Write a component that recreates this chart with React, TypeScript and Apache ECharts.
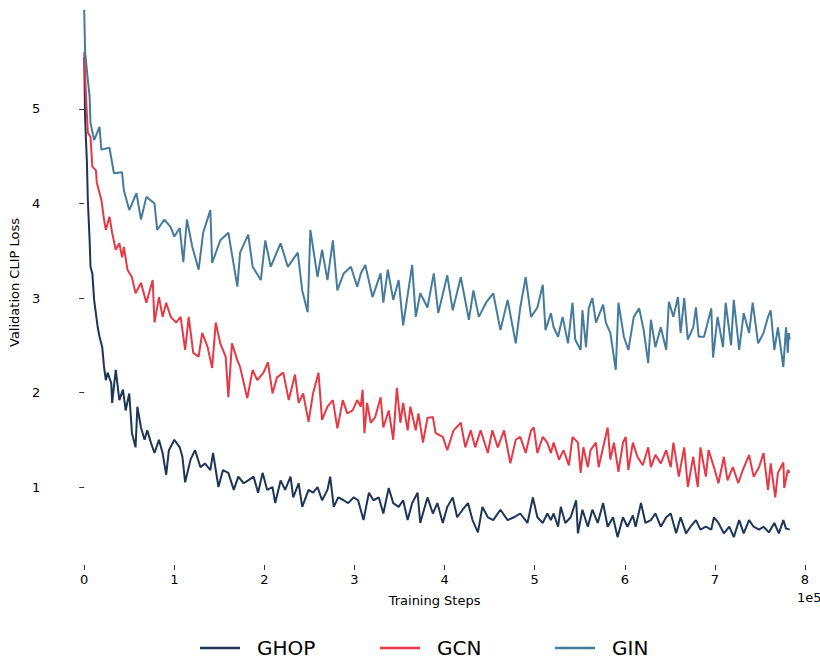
import React, { useEffect, useRef } from "react";
import * as echarts from "echarts";

// Training steps are in thousands; loss values.
const ghopPoints: [number, number][] = [[0,5.55],[1,4.90],[3,4.43],[4,4.04],[6,3.61],[7,3.33],[9,3.26],[11,2.98],[15,2.69],[17,2.59],[20,2.48],[22,2.27],[24,2.13],[26,2.21],[30,2.10],[31,1.89],[35,2.24],[39,1.92],[43,2.03],[46,1.81],[50,1.99],[53,1.57],[57,1.42],[59,1.85],[63,1.63],[67,1.50],[70,1.60],[74,1.47],[78,1.36],[83,1.50],[87,1.36],[91,1.13],[94,1.39],[100,1.50],[106,1.42],[109,1.32],[112,1.05],[118,1.29],[123,1.39],[129,1.21],[134,1.25],[140,1.18],[143,1.36],[149,1.00],[154,1.18],[160,1.15],[166,0.97],[171,1.11],[177,1.04],[182,1.07],[188,1.11],[193,0.94],[198,1.15],[203,0.97],[209,1.00],[212,0.83],[218,1.07],[223,0.97],[229,1.11],[232,0.89],[238,1.04],[242,0.79],[249,0.97],[254,0.94],[259,1.00],[264,0.86],[270,0.97],[273,1.11],[277,0.79],[282,0.89],[288,0.86],[293,0.83],[299,0.89],[304,0.86],[310,0.65],[316,0.94],[321,0.86],[327,0.89],[332,0.72],[338,0.99],[343,0.83],[349,0.79],[354,0.86],[359,0.65],[364,0.83],[370,0.94],[373,0.62],[381,0.89],[387,0.72],[392,0.83],[398,0.62],[403,0.79],[409,0.89],[414,0.68],[420,0.76],[426,0.83],[431,0.65],[437,0.52],[442,0.79],[448,0.68],[454,0.65],[462,0.76],[470,0.65],[477,0.68],[484,0.72],[492,0.62],[498,0.89],[503,0.68],[509,0.62],[514,0.72],[518,0.65],[521,0.72],[526,0.58],[529,0.79],[534,0.62],[540,0.68],[546,0.86],[548,0.51],[553,0.76],[559,0.58],[564,0.76],[570,0.62],[576,0.83],[581,0.58],[587,0.68],[592,0.47],[598,0.68],[603,0.58],[609,0.70],[612,0.58],[618,0.83],[623,0.62],[629,0.65],[634,0.72],[640,0.58],[646,0.68],[651,0.72],[657,0.51],[662,0.68],[668,0.51],[673,0.58],[679,0.65],[684,0.55],[690,0.58],[696,0.55],[699,0.68],[704,0.62],[710,0.51],[716,0.58],[721,0.47],[727,0.65],[732,0.51],[738,0.65],[743,0.58],[749,0.55],[754,0.58],[760,0.52],[766,0.62],[771,0.51],[776,0.65],[779,0.56],[783,0.55]];

const gcnPoints: [number, number][] = [[0,5.60],[2,5.13],[4,4.75],[7,4.70],[9,4.39],[13,4.35],[14,4.22],[19,4.04],[22,3.83],[24,3.72],[28,3.86],[31,3.69],[35,3.51],[39,3.58],[42,3.43],[44,3.54],[48,3.30],[53,3.22],[57,3.05],[63,3.16],[69,2.95],[76,3.19],[78,2.74],[83,3.01],[87,2.80],[91,2.95],[96,2.80],[102,2.74],[107,2.80],[112,2.45],[116,2.80],[121,2.42],[127,2.38],[131,2.63],[137,2.48],[142,2.26],[146,2.74],[151,2.52],[157,2.38],[160,1.95],[164,2.52],[170,2.34],[173,2.27],[181,1.94],[187,2.24],[192,2.13],[199,2.21],[204,2.32],[209,1.99],[214,2.16],[221,2.21],[227,1.92],[234,2.19],[238,1.89],[243,1.99],[249,1.69],[254,1.99],[260,2.21],[264,1.71],[270,1.85],[276,1.92],[281,1.62],[287,1.92],[292,1.78],[298,1.81],[303,1.92],[307,1.85],[309,2.03],[311,1.57],[314,1.89],[318,1.68],[323,1.74],[329,1.95],[332,1.63],[338,1.81],[343,1.50],[347,2.05],[351,1.68],[354,1.89],[359,1.60],[362,1.85],[368,1.60],[371,1.78],[376,1.47],[381,1.73],[387,1.74],[390,1.57],[398,1.53],[403,1.39],[410,1.60],[418,1.68],[423,1.42],[429,1.60],[434,1.42],[440,1.60],[448,1.36],[453,1.60],[459,1.42],[466,1.60],[473,1.25],[479,1.50],[484,1.53],[490,1.36],[496,1.60],[499,1.63],[503,1.36],[509,1.53],[514,1.47],[518,1.36],[521,1.47],[527,1.29],[532,1.39],[538,1.23],[542,1.53],[548,1.47],[551,1.15],[554,1.42],[559,1.21],[562,1.39],[568,1.47],[571,1.21],[576,1.42],[581,1.63],[584,1.29],[588,1.47],[593,1.16],[598,1.47],[601,1.53],[604,1.18],[609,1.47],[614,1.32],[620,1.23],[626,1.42],[629,1.21],[634,1.34],[640,1.25],[646,1.39],[651,1.21],[654,1.47],[660,1.11],[666,1.42],[670,1.00],[676,1.32],[681,1.00],[684,1.42],[690,1.11],[693,1.39],[699,1.21],[704,1.04],[710,1.32],[714,1.07],[720,1.21],[726,1.04],[731,1.18],[738,1.34],[743,1.11],[749,1.21],[754,1.36],[759,0.97],[762,1.25],[767,0.89],[770,1.15],[776,1.26],[777,0.99],[781,1.18],[783,1.15]];

const ginPoints: [number, number][] = [[0,6.05],[1,5.60],[4,5.31],[6,5.13],[7,4.85],[11,4.67],[17,4.81],[19,4.57],[28,4.59],[33,4.32],[42,4.33],[44,4.14],[50,3.93],[58,4.11],[63,3.83],[69,4.07],[78,4.00],[81,3.72],[89,3.83],[96,3.75],[100,3.65],[106,3.74],[110,3.38],[114,3.83],[120,3.54],[127,3.30],[132,3.69],[140,3.93],[142,3.37],[151,3.61],[160,3.69],[170,3.12],[173,3.48],[182,3.67],[187,3.33],[196,3.19],[201,3.61],[207,3.33],[218,3.58],[226,3.33],[237,3.48],[242,3.08],[248,2.85],[251,3.72],[259,3.22],[264,3.51],[270,3.19],[276,3.61],[281,3.08],[288,3.26],[296,3.33],[303,3.12],[307,3.26],[312,3.35],[320,3.01],[329,3.26],[332,2.95],[337,3.30],[343,2.98],[349,3.19],[354,2.71],[364,3.35],[368,2.80],[373,3.05],[381,2.90],[388,3.26],[393,2.84],[403,3.24],[409,2.87],[418,3.22],[427,2.77],[432,3.08],[438,2.80],[446,2.95],[454,3.05],[462,2.66],[470,2.98],[479,2.52],[484,2.90],[490,3.22],[496,2.80],[503,2.90],[509,3.14],[512,2.66],[518,2.84],[521,2.69],[526,2.59],[531,2.80],[537,2.52],[542,2.95],[545,2.56],[551,2.45],[553,2.87],[557,2.48],[560,2.89],[564,3.00],[568,2.74],[576,2.93],[579,2.74],[584,2.63],[590,2.24],[593,2.95],[599,2.59],[604,2.45],[610,2.80],[616,2.89],[621,2.66],[626,2.31],[629,2.77],[634,2.48],[640,2.69],[646,2.45],[649,2.96],[654,2.80],[659,3.01],[662,2.63],[666,3.00],[670,2.56],[676,2.69],[679,2.90],[682,2.59],[688,2.59],[696,2.89],[698,2.37],[703,2.80],[709,2.48],[712,2.95],[718,2.50],[721,2.98],[727,2.45],[732,2.84],[738,2.63],[742,2.95],[748,2.52],[754,2.63],[759,2.80],[762,2.87],[766,2.45],[770,2.69],[773,2.48],[776,2.27],[779,2.69],[781,2.42],[782,2.63],[783,2.56]];

const seriesNames = ["GHOP", "GCN", "GIN"];
const seriesColors = ["#1d3557", "#e63946", "#457b9d"];
const xTickValues = [0, 1, 2, 3, 4, 5, 6, 7, 8];
const yTickValues = [1, 2, 3, 4, 5];

const FONT = "DejaVu Sans";

export default function App() {
  const ref = useRef<HTMLDivElement>(null);
  useEffect(() => {
    if (!ref.current) return;
    const chart = echarts.init(ref.current, undefined, { renderer: "svg" });
    const toXY = (pts: [number, number][]) => pts.map(([k, v]) => [k / 100, v]);
    const allPoints = [ghopPoints, gcnPoints, ginPoints];
    const legendLefts = [200, 380, 555];
    chart.setOption({
      animation: false,
      backgroundColor: "#ffffff",
      textStyle: { fontFamily: FONT },
      grid: { left: 46, right: 0, top: 0, bottom: 91, containLabel: false },
      xAxis: {
        type: "value",
        min: -0.389,
        max: 8.167,
        name: "Training Steps",
        nameLocation: "middle",
        nameGap: 29,
        nameTextStyle: { fontSize: 13, color: "#000", fontFamily: FONT },
        axisLine: { show: false },
        splitLine: { show: false },
        axisTick: { show: true, length: 5, customValues: xTickValues, lineStyle: { color: "#333", width: 1 } },
        axisLabel: { customValues: xTickValues, fontSize: 13, color: "#000", margin: 8, fontFamily: FONT },
      },
      yAxis: {
        type: "value",
        min: 0.175,
        max: 6.153,
        name: "Validation CLIP Loss",
        nameLocation: "middle",
        nameRotate: 90,
        nameGap: 22,
        nameTextStyle: { fontSize: 13, color: "#000", fontFamily: FONT },
        axisLine: { show: false },
        splitLine: { show: false },
        axisTick: { show: true, length: 5, customValues: yTickValues, lineStyle: { color: "#333", width: 1 } },
        axisLabel: { customValues: yTickValues, fontSize: 13, color: "#000", margin: 9, fontFamily: FONT },
      },
      legend: seriesNames.map((name, i) => ({
        data: [name],
        left: legendLefts[i],
        top: 638,
        padding: 0,
        orient: "horizontal",
        icon: "rect",
        itemWidth: 40,
        itemHeight: 2.5,
        textStyle: { fontSize: 20, lineHeight: 18, color: "#000", fontFamily: FONT, padding: [0, 0, 0, 12] },
      })),
      graphic: [
        {
          type: "text",
          left: 797,
          top: 591,
          style: { text: "1e5", fontSize: 13, fill: "#000", fontFamily: FONT },
        },
      ],
      series: seriesNames.map((name, i) => ({
        name,
        type: "line",
        data: toXY(allPoints[i]),
        showSymbol: false,
        symbol: "none",
        lineStyle: { width: 2, color: seriesColors[i] },
        itemStyle: { color: seriesColors[i] },
        z: 2 + i,
      })),
    });
    return () => chart.dispose();
  }, []);
  return (
    <div
      ref={ref}
      style={{ position: "absolute", left: 0, top: 0, width: 820, height: 656 }}
    />
  );
}
